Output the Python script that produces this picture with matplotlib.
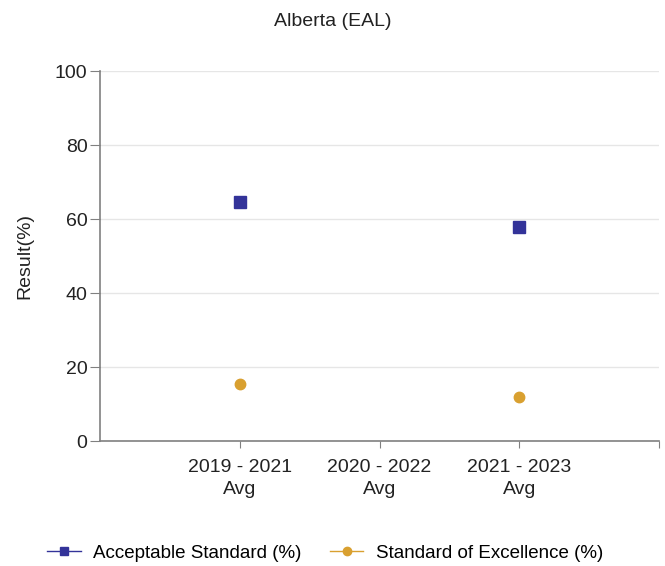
import matplotlib.pyplot as plt
import numpy as np

categories = ["2019 - 2021\nAvg", "2020 - 2022\nAvg", "2021 - 2023\nAvg"]
acceptable = [64.6, np.nan, 57.8]
excellence = [15.4, np.nan, 11.9]

plt.rcParams["font.family"] = ["Liberation Sans", "DejaVu Sans"]

fig = plt.figure(figsize=(6.65, 5.66), dpi=100)
ax = fig.add_axes([100 / 665, 125 / 566, 559 / 665, 370 / 566])

x = np.arange(len(categories))
ax.plot(x, acceptable, marker="s", linestyle="none", color="#333399",
        markersize=8, label="Acceptable Standard (%)")
ax.plot(x, excellence, marker="o", linestyle="none", color="#D9A030",
        markersize=7.5, label="Standard of Excellence (%)")

ax.set_xlim(-1, 3)
ax.set_ylim(0, 100)
ax.set_yticks(range(0, 101, 20))
ax.set_xticks(list(x) + [3])
ax.set_xticklabels(categories + [""], fontsize=14, color="#222222",
                   linespacing=1.35)
ax.tick_params(axis="y", labelsize=14, labelcolor="#222222", length=7,
               color="#808080", pad=2)
ax.tick_params(axis="x", length=5, color="#808080", pad=8)
ax.grid(axis="y", color="#e6e6e6", linewidth=1)
ax.set_axisbelow(True)
for side in ("top", "right"):
    ax.spines[side].set_visible(False)
for side in ("left", "bottom"):
    ax.spines[side].set_color("#808080")
    ax.spines[side].set_linewidth(1.2)

ax.set_ylabel("Result(%)", fontsize=14, color="#222222")
ax.yaxis.set_label_coords(-0.12, 0.5)
fig.text(333 / 665, 1 - 22 / 566, "Alberta (EAL)", ha="center", va="center",
         fontsize=14, color="#222222")

handles = [
    plt.Line2D([], [], color="#333399", marker="s", markersize=6, linewidth=1),
    plt.Line2D([], [], color="#D9A030", marker="o", markersize=6, linewidth=1),
]
fig.legend(handles, ["Acceptable Standard (%)", "Standard of Excellence (%)"],
           loc="center", bbox_to_anchor=(325 / 665, 1 - 553 / 566), ncol=2,
           frameon=False, fontsize=13.5, handlelength=1.8, handletextpad=0.65,
           columnspacing=1.5)

fig.savefig("out.png", dpi=100)
